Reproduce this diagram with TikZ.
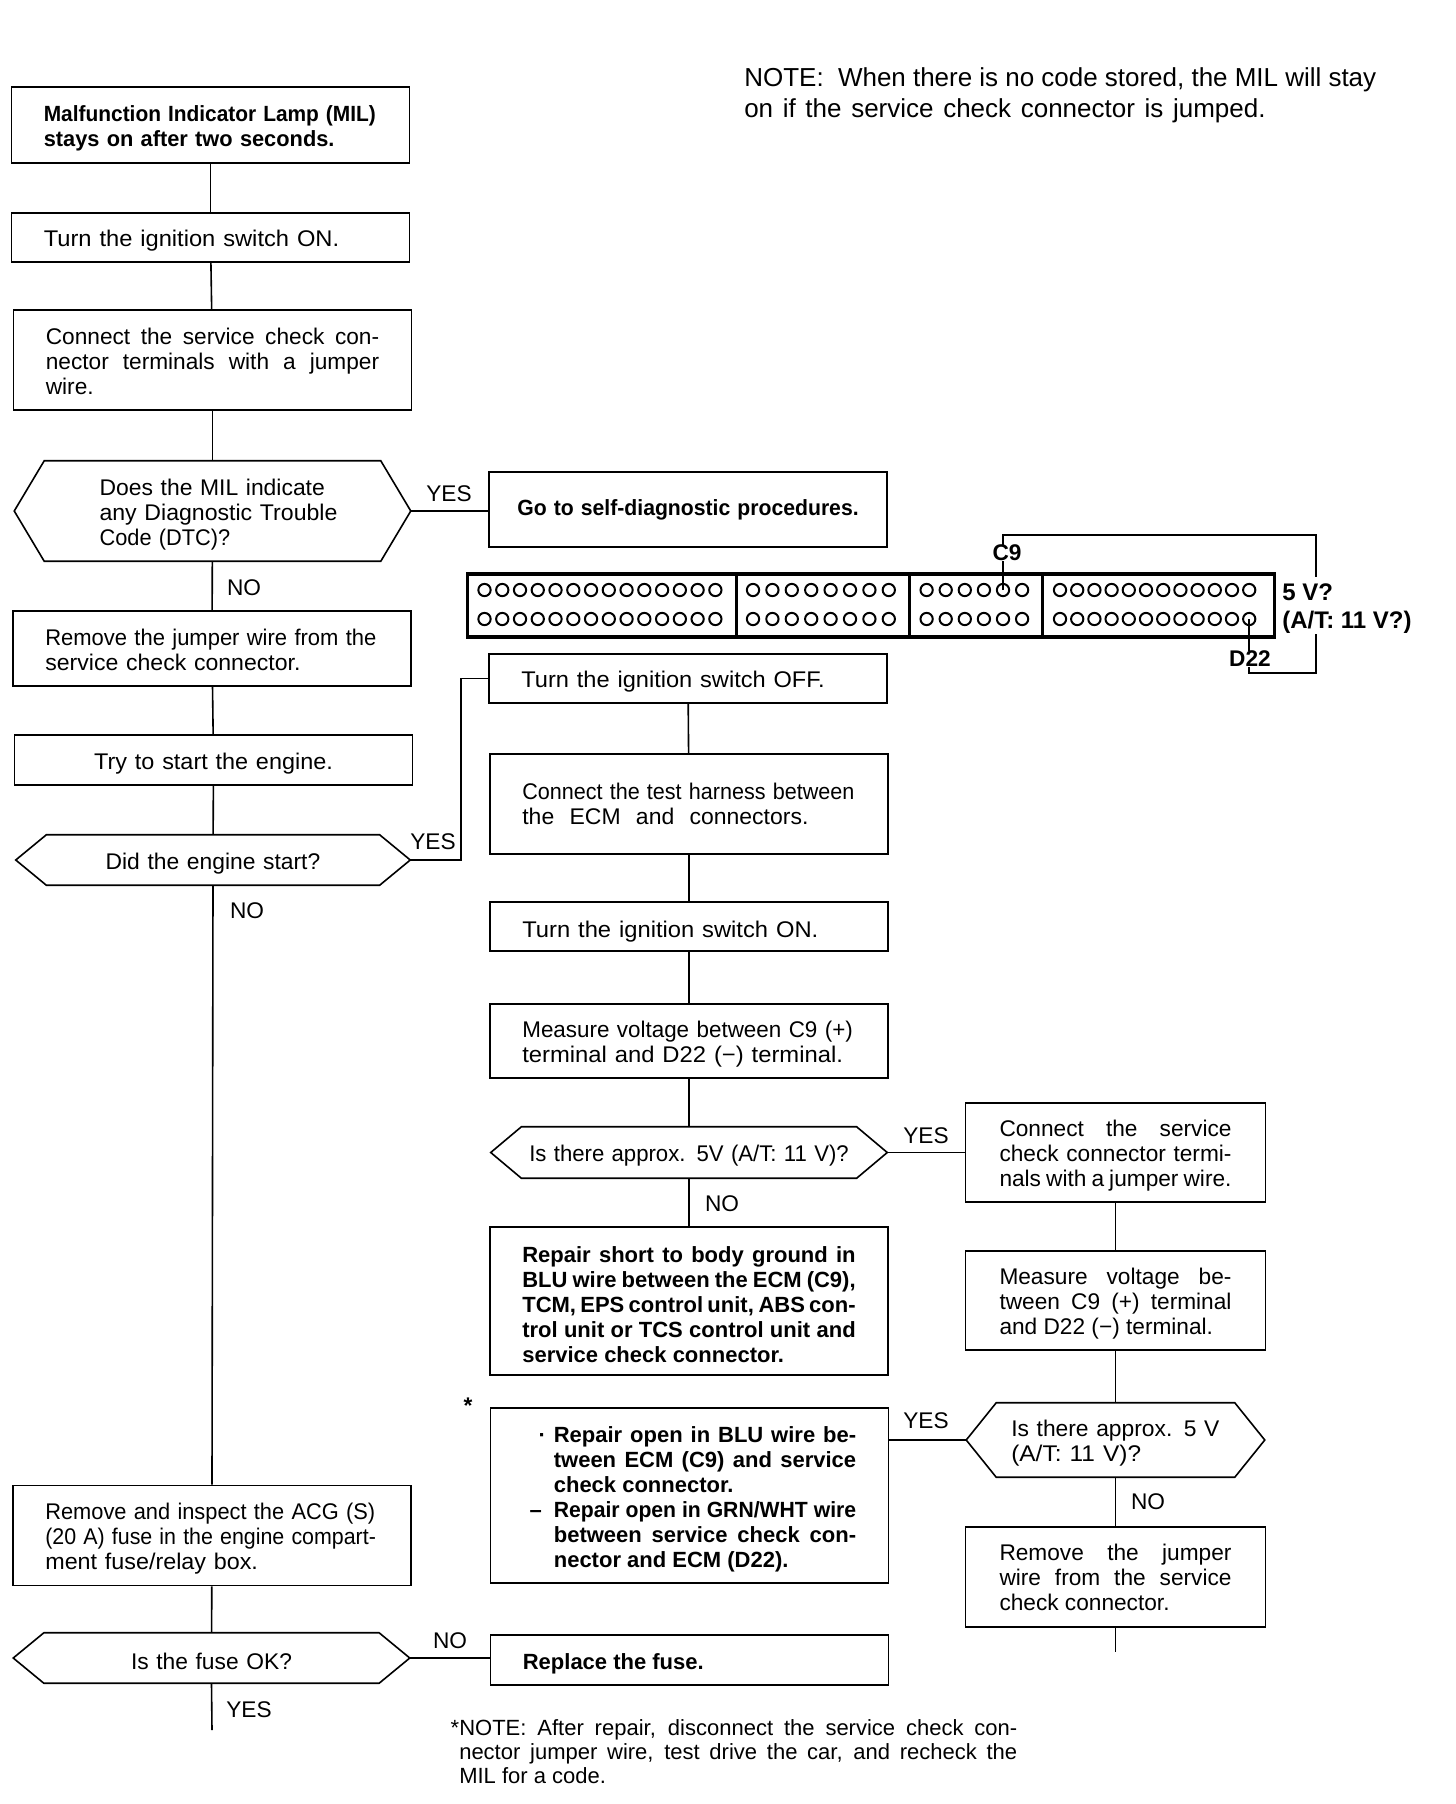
\documentclass[tikz,border=0pt]{standalone}
\usepackage{fontspec}
\setmainfont{Liberation Sans}
\newcommand{\fitline}[2]{\resizebox{#1pt}{\height}{#2}}
\tikzset{
  lowered/.store in=\firststrut,
  flowbox/.style={draw,rectangle,line width=1.2pt,inner sep=0pt,minimum width=298.5pt,text width=250pt,align=left,lowered=17.6pt,execute at begin node={\leavevmode\rule{0pt}{\firststrut}},font=\fontsize{17}{18.75}\selectfont},
  fillbox/.style={flowbox,align=justify},
  boldbox/.style={fillbox,font=\fontsize{16.5}{18.75}\selectfont\bfseries},
  hexbox/.style={rectangle,inner sep=0pt,align=left,lowered=17.6pt,execute at begin node={\leavevmode\rule{0pt}{\firststrut}},font=\fontsize{17}{18.75}\selectfont},
  answer/.style={inner sep=0pt,font=\fontsize{17}{18.75}\selectfont},
  portbox/.style={draw,rectangle,line width=2.4pt,inner sep=0pt,minimum height=47.25pt,anchor=west},
  porthole/.style={draw,circle,line width=1.5pt,inner sep=0pt,minimum size=9.2pt},
  portlabel/.style={inner sep=0pt,align=left,font=\fontsize{17}{20}\selectfont\bfseries},
  flowline/.style={line width=1.2pt}
}
\newcommand{\hexoutline}[2]{\draw[flowline] ([xshift=#2]#1.north west) -- ([xshift=-#2]#1.north east) -- (#1.east) -- ([xshift=-#2]#1.south east) -- ([xshift=#2]#1.south west) -- (#1.west) -- cycle;}
\begin{document}
\begin{tikzpicture}[x=0.75pt,y=0.75pt,yscale=-1,xscale=1]
    \useasboundingbox (0,0) rectangle (1456,1804);

    %Shape: left column
    \node[boldbox,align=left,minimum height=57pt] (lamp) at (210.5,125) {\fitline{249}{Malfunction Indicator Lamp (MIL)}\\\fitline{218}{stays on after two seconds.}};
    \node[flowbox,minimum height=36.75pt] (ignon) at (210.5,237.5) {\fitline{221.5}{Turn the ignition switch ON.}};
    \node[fillbox,lowered=14.6pt,minimum height=75pt] (jumper) at (212.5,360) {Connect the service check con-\linebreak nector terminals with a jumper\linebreak wire.};
    \node[hexbox,text width=169.4pt,minimum width=297pt,minimum height=75pt] (dtc) at (212.5,511) {\fitline{169}{Does the MIL indicate}\\\fitline{178.4}{any Diagnostic Trouble}\\\fitline{98}{Code (DTC)?}};
    \node[flowbox,lowered=15pt,minimum height=56.25pt] (unjump) at (212,648.5) {\fitline{248.3}{Remove the jumper wire from the}\\\fitline{191.4}{service check connector.}};
    \node[flowbox,align=center,minimum height=37.5pt] (start) at (213.5,760) {\fitline{179}{Try to start the engine.}};
    \node[hexbox,text width=200pt,align=center,minimum width=295.5pt,minimum height=37.5pt] (started) at (213,860) {\fitline{161}{Did the engine start?}};
    \node[flowbox,minimum height=75pt] (acg) at (212,1535.5) {\fitline{247.4}{Remove and inspect the ACG (S)}\\\fitline{248}{(20 A) fuse in the engine compart-}\\\fitline{159.5}{ment fuse/relay box.}};
    \node[hexbox,text width=200pt,align=center,minimum width=297pt,minimum height=37.5pt] (fuse) at (211.5,1658) {\fitline{120.7}{Is the fuse OK?}};
    \coordinate (fuseend) at (212,1730);

    %Shape: middle column
    \node[flowbox,lowered=12.4pt,text width=256pt,font=\fontsize{16.5}{18.75}\selectfont\bfseries,minimum height=56.25pt] (selfdiag) at (688,509.5) {\fitline{256}{Go to self-diagnostic procedures.}};
    \node[flowbox,minimum height=36.75pt] (ignoff) at (688,678.5) {\fitline{227.6}{Turn the ignition switch OFF.}};
    \node[flowbox,lowered=12.4pt,minimum height=75pt] (harness) at (689,804) {\fitline{249}{Connect the test harness between}\\\fitline{214.6}{the\ \ ECM\ \ and\ \ connectors.}};
    \node[flowbox,lowered=20pt,minimum height=36.75pt] (ignon2) at (689,926.5) {\fitline{222}{Turn the ignition switch ON.}};
    \node[flowbox,minimum height=55.5pt] (measure) at (689,1041) {\fitline{248}{Measure voltage between C9 (+)}\\\fitline{240.5}{terminal and D22 (−) terminal.}};
    \node[hexbox,text width=250pt,align=center,minimum width=297pt,minimum height=38.25pt] (approx) at (689,1152.5) {\fitline{239.6}{Is there approx. 5V (A/T: 11 V)?}};
    \node[boldbox,minimum height=111pt] (short) at (689,1301) {Repair short to body ground in\linebreak BLU wire between the ECM (C9),\linebreak TCM, EPS control unit, ABS con-\linebreak trol unit or TCS control unit and\linebreak service check connector.};
    \node[boldbox,minimum height=131.25pt] (open) at (689.5,1495.5) {\leftskip=23.25pt\llap{·\hspace{6pt}}Repair open in BLU wire be-\linebreak tween ECM (C9) and service\linebreak check connector.\par\leavevmode\llap{–\hspace{9pt}}\fitline{226.75}{Repair open in GRN/WHT wire}\linebreak between service check con-\linebreak nector and ECM (D22).\par};
    \node[boldbox,minimum height=37.5pt] (replace) at (689.5,1660) {Replace the fuse.};

    %Shape: right column
    \node[fillbox,minimum width=225pt,text width=174pt,minimum height=74.25pt] (jumper2) at (1115.5,1152.5) {Connect the service\linebreak check connector termi-\linebreak nals with a jumper wire.};
    \node[fillbox,minimum width=225pt,text width=174pt,minimum height=74.25pt] (measure2) at (1115.5,1300.5) {Measure voltage be-\linebreak tween C9 (+) terminal\linebreak and D22 (−) terminal.};
    \node[hexbox,text width=156.3pt,minimum width=223.5pt,minimum height=55.5pt] (approx2) at (1115.5,1440) {\fitline{156}{Is there approx. 5 V}\\\fitline{97.4}{(A/T: 11 V)?}};
    \node[fillbox,lowered=12.4pt,minimum width=225pt,text width=174pt,minimum height=75pt] (unjump2) at (1115.5,1577) {Remove the jumper\linebreak wire from the service\linebreak check connector.\par\vspace*{2pt}};
    \coordinate (unjumpend) at (1115.5,1652);

    %Shape: hexagons
    \hexoutline{dtc}{22.5pt}
    \hexoutline{started}{23pt}
    \hexoutline{fuse}{23pt}
    \hexoutline{approx}{23pt}
    \hexoutline{approx2}{22.5pt}

    %Shape: connector sockets
    \foreach \s/\x/\w in {1/465.5/201.75,2/734.5/129.75,3/907.5/99.75,4/1040.5/174}
      \node[portbox,minimum width=\w pt] (port\s) at (\x,605.5) {};
    \foreach \s/\n/\a/\d in {1/14/484.5/17.76,2/8/753/19.4,3/6/926.6/19.1,4/12/1060/17.2}
      \foreach \r/\y in {1/590,2/619}
        \foreach \i in {1,...,\n}
          \node[porthole] (hole-\s-\r-\i) at ({\a+(\i-1)*\d},\y) {};

    % Text Node
    \node[portlabel] (labelcnine) at (1007,553) {C9};
    \node[portlabel] (labeldtwo) at (1250,659) {D22};
    \node[portlabel,anchor=west,font=\fontsize{18}{21}\selectfont\bfseries] (voltage) at (1282,609) {5 V?\\(A/T: 11 V?)};
    \node[answer] (yesdtc) at (449,493.5) {YES};
    \node[answer] (nodtc) at (244,587.5) {NO};
    \node[answer] (yesstart) at (433,841.5) {YES};
    \node[answer] (nostart) at (247,910.5) {NO};
    \node[answer] (yesapprox) at (926,1136) {YES};
    \node[answer] (noapprox) at (722,1204) {NO};
    \node[answer] (yesapproxb) at (926,1421) {YES};
    \node[answer] (noapproxb) at (1148,1502) {NO};
    \node[answer] (nofuse) at (450,1641) {NO};
    \node[answer] (yesfuse) at (249,1710) {YES};
    \node[answer,font=\fontsize{17}{18.75}\selectfont\bfseries] (star) at (468,1406) {*};
    \node[inner sep=0pt,anchor=north west,text width=474pt,align=justify,font=\fontsize{19.5}{23.25}\selectfont] (topnote) at (744,67) {NOTE:\ \ When there is no code stored, the MIL will stay\linebreak \makebox[391pt][s]{on if the service check connector is jumped.}};
    \node[inner sep=0pt,anchor=north west,text width=418.5pt,align=justify,font=\fontsize{16.5}{18.2}\selectfont] (footnote) at (459,1719) {\leavevmode\llap{*}NOTE: After repair, disconnect the service check con-\linebreak nector jumper wire, test drive the car, and recheck the\linebreak MIL for a code.};

    %Straight Lines
    \draw[flowline] (lamp) -- (ignon);
    \draw[flowline] (ignon) -- (jumper);
    \draw[flowline] (jumper) -- (dtc);
    \draw[flowline] (dtc) -- (unjump);
    \draw[flowline] (unjump) -- (start);
    \draw[flowline] (start) -- (started);
    \draw[flowline] (started.south) -- (acg.north);
    \draw[flowline] (acg) -- (fuse);
    \draw[flowline] (fuse.south) -- (fuseend);
    \draw[flowline] (dtc.east) -- (dtc.east -| selfdiag.west);
    \draw[flowline] (started.east) -- ++(51,0) |- (ignoff.west);
    \draw[flowline] (fuse.east) -- (fuse.east -| replace.west);
    \draw[flowline] (ignoff) -- (harness);
    \draw[flowline] (harness) -- (ignon2);
    \draw[flowline] (ignon2) -- (measure);
    \draw[flowline] (measure) -- (approx);
    \draw[flowline] (approx) -- (short);
    \draw[flowline] (approx.east) -- (jumper2.west);
    \draw[flowline] (jumper2) -- (measure2);
    \draw[flowline] (measure2) -- (approx2);
    \draw[flowline] (approx2.west) -- (approx2.west -| open.east);
    \draw[flowline] (approx2) -- (unjump2);
    \draw[flowline] (unjump2.south) -- (unjumpend);

    %Straight Lines: test probes
    \coordinate (probetop) at (1316,535);
    \coordinate (probebottom) at (1316,673);
    \draw[flowline] (hole-3-1-5.center) -- (hole-3-1-5.center |- labelcnine.south);
    \draw[flowline,shorten >=5pt] (hole-3-1-5.center |- labelcnine.north) |- (probetop) -- (probetop |- voltage.north);
    \draw[flowline] (hole-4-2-12.center) -- (hole-4-2-12.center |- labeldtwo.north);
    \draw[flowline] (hole-4-2-12.center |- labeldtwo.south) |- (probebottom) -- (probebottom |- voltage.south);
\end{tikzpicture}
\end{document}
